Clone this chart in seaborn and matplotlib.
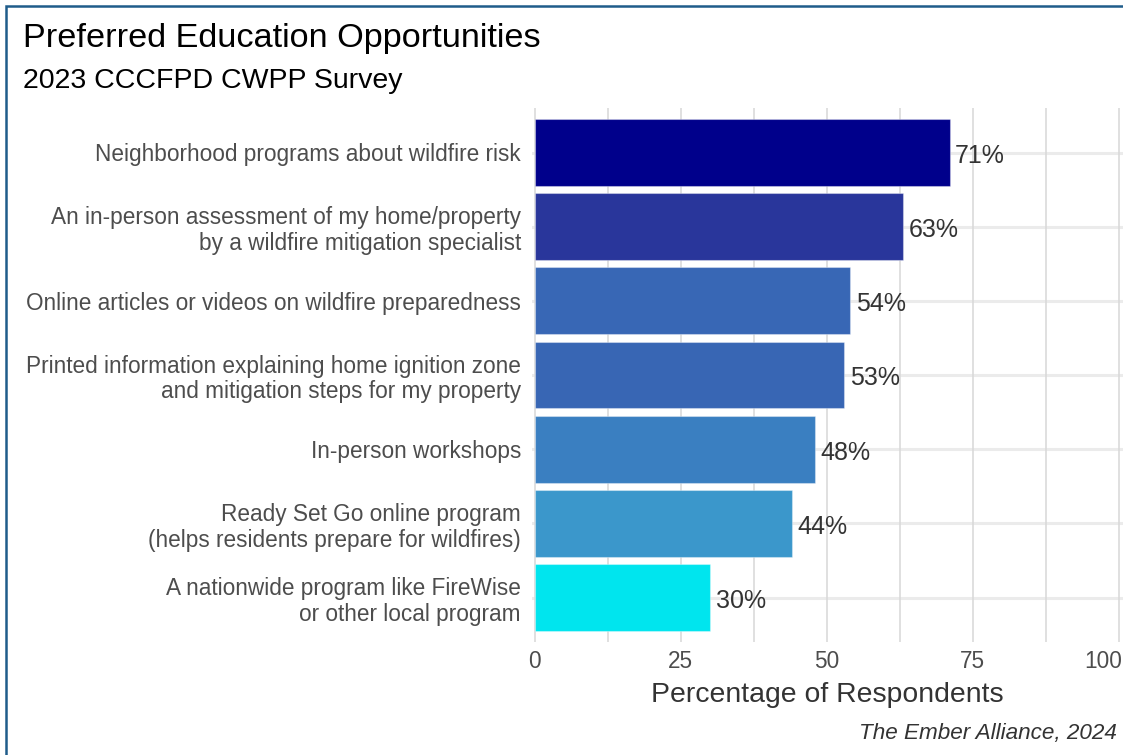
import matplotlib
matplotlib.use("Agg")
import matplotlib.pyplot as plt
from matplotlib.patches import Rectangle
from matplotlib.transforms import ScaledTranslation
import seaborn as sns
import pandas as pd

# Survey results: share of respondents choosing each education option
categories = [
    "Neighborhood programs about wildfire risk",
    "An in-person assessment of my home/property\nby a wildfire mitigation specialist",
    "Online articles or videos on wildfire preparedness",
    "Printed information explaining home ignition zone\nand mitigation steps for my property",
    "In-person workshops",
    "Ready Set Go online program\n(helps residents prepare for wildfires)",
    "A nationwide program like FireWise\nor other local program",
]
percentages = [71, 63, 54, 53, 48, 44, 30]
bar_colors = ["#00008B", "#29369B", "#3867B5", "#3866B4", "#3A7FC1", "#3B97CB", "#00E5EE"]
x_ticks = [0, 25, 50, 75, 100]

df = pd.DataFrame({"option": categories, "pct": percentages})

sns.set_theme(style="white")
plt.rcParams["font.family"] = ["Liberation Sans", "DejaVu Sans"]

W, H = 1123, 755
fig = plt.figure(figsize=(W / 100, H / 100), dpi=100)
fig.patch.set_facecolor("white")

# panel placement in pixels
left_px, right_px = 532, 1123
top_px, bottom_px = 108, 642
ax = fig.add_axes([left_px / W, 1 - bottom_px / H,
                   (right_px - left_px) / W, (bottom_px - top_px) / H])

sns.barplot(data=df, x="pct", y="option", hue="option", palette=bar_colors,
            saturation=1, orient="h", width=0.9, legend=False, ax=ax,
            edgecolor=(1, 1, 1, 0.35), linewidth=0.8, zorder=3)

ax.set_xlim(-0.5, 100.7)
ax.set_ylim(len(categories) - 0.4, -0.6)

# grid: category lines, major and minor value lines
for i in range(len(categories)):
    ax.axhline(i, color="#EBEBEB", lw=2.2, zorder=1)
for v in [0, 12.5, 25, 37.5, 50, 62.5, 75, 87.5, 100]:
    ax.axvline(v, color="#DADADA", lw=1.2, zorder=1.5)

for s in ax.spines.values():
    s.set_visible(False)

ax.set_xticks(x_ticks)
ax.set_xticklabels([str(t) for t in x_ticks])
ax.tick_params(axis="both", length=0, labelsize=16.3, labelcolor="#4D4D4D")
ax.tick_params(axis="y", pad=8)
ax.tick_params(axis="x", pad=6)
for lab in ax.get_yticklabels():
    lab.set_linespacing(1.15)
    lab.set_horizontalalignment("right")
# keep the last value label inside the canvas
last = ax.get_xticklabels()[-1]
last.set_transform(last.get_transform() + ScaledTranslation(-16 / 100, 0, fig.dpi_scale_trans))

ax.set_ylabel("")
ax.set_xlabel("Percentage of Respondents", fontsize=20.4, color="#333333", labelpad=6)

# value labels just past the end of each bar
for container in ax.containers:
    for bar in container:
        w = bar.get_width()
        yc = bar.get_y() + bar.get_height() / 2
        ax.annotate(f"{int(round(w))}%", xy=(w, yc), xytext=(4, -2.5),
                    textcoords="offset points", ha="left", va="center",
                    fontsize=18, color="#333333", zorder=4)

fig.text(23 / W, 1 - 39 / H, "Preferred Education Opportunities",
         fontsize=24.7, color="black", ha="left", va="center")
fig.text(23 / W, 1 - 81 / H, "2023 CCCFPD CWPP Survey",
         fontsize=20.5, color="black", ha="left", va="center")
fig.text(1117 / W, 1 - 733 / H, "The Ember Alliance, 2024",
         fontsize=16.2, color="#333333", style="italic", ha="right", va="center")

# outer frame line along left and top edges
fig.patches.append(Rectangle((6 / W, -0.1), 2, 1.1 - 6 / H,
                             transform=fig.transFigure, fill=False,
                             edgecolor="#1F5C8A", lw=1.8, zorder=10))

fig.savefig("out.png", dpi=100)
